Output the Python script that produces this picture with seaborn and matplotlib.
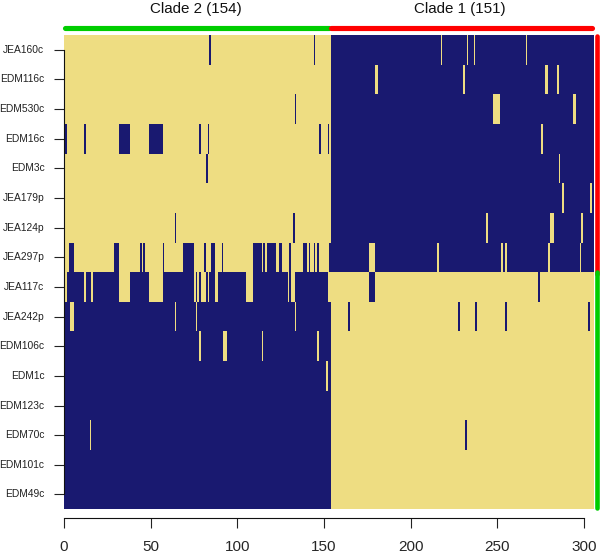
import numpy as np
import pandas as pd
import matplotlib
matplotlib.use("Agg")
import matplotlib.pyplot as plt
import seaborn as sns

sns.set_theme(style="white")
plt.rcParams['font.family'] = ['Liberation Sans', 'DejaVu Sans']

NAVY = "#191970"
KHAKI = "#EEDD82"
GREEN = "#00CD00"
RED = "#FF0000"

clade2_n = 154
clade1_n = 151

row_labels = ["JEA160c", "EDM116c", "EDM530c", "EDM16c", "EDM3c", "JEA179p", "JEA124p", "JEA297p",
              "JEA117c", "JEA242p", "EDM106c", "EDM1c", "EDM123c", "EDM70c", "EDM101c", "EDM49c"]

# column of each isolate that goes against the rest of its clade, per marker
jea160c = [84, 144, 217, 232, 236, 266]
edm116c = [179, 180, 230, 277, 278, 284]
edm530c = [133, 247, 248, 249, 250, 293, 294]
edm16c = [1, 12, 32, 33, 34, 35, 36, 37, 49, 50, 51, 52, 53, 54, 55, 56, 78, 83, 147, 152, 275]
edm3c = [82, 285]
jea179p = [287, 303]
jea124p = [64, 132, 243, 280, 281, 298]
jea297p = [3, 4, 5, 29, 30, 31, 44, 46, 57, 69, 70, 71, 72, 73, 74, 81, 85, 86, 91,
           109, 110, 111, 112, 113, 115, 117, 118, 119, 120, 121, 124, 125, 130,
           138, 139, 141, 144, 146, 153, 176, 177, 178, 215, 252, 254, 279, 297]
jea117c = [1, 12, 16, 32, 33, 34, 35, 36, 37, 49, 50, 51, 52, 53, 54, 55, 56, 75, 77,
           79, 80, 81, 83, 87, 88, 105, 106, 107, 108, 129, 131, 132, 152, 153,
           176, 177, 178, 273]
jea242p = [4, 5, 64, 76, 133, 164, 227, 237, 254, 302]
edm106c = [78, 92, 93, 114, 146]
edm1c = [151]
edm123c = []
edm70c = [15, 231]
edm101c = []
edm49c = []

exceptions = [jea160c, edm116c, edm530c, edm16c, edm3c, jea179p, jea124p, jea297p,
              jea117c, jea242p, edm106c, edm1c, edm123c, edm70c, edm101c, edm49c]

# 1 = navy, 0 = khaki
rows = []
for i, flips in enumerate(exceptions):
    first_half = i < 8
    row = np.r_[np.full(clade2_n, 0 if first_half else 1), np.full(clade1_n, 1 if first_half else 0)]
    row[flips] = 1 - row[flips]
    rows.append(row)
df = pd.DataFrame(rows, index=row_labels)

fig = plt.figure(figsize=(6, 5.55), dpi=100)
ax = fig.add_axes([63.5 / 600, 1 - 509.3 / 555, 530 / 600, 474.3 / 555])
sns.heatmap(df, cmap=[KHAKI, NAVY], cbar=False, ax=ax, vmin=0, vmax=1,
            xticklabels=False, yticklabels=True, antialiased=True)

xtick_vals = [0, 50, 100, 150, 200, 250, 300]
ax.set_xticks([t * 0.9973 + 0.3 for t in xtick_vals])
ax.set_xticklabels(xtick_vals, fontsize=10.5, color="#111111")
ax.tick_params(axis="x", length=7, width=0.8, color="#222222", pad=8.5, bottom=True)
ax.tick_params(axis="y", length=7.2, width=0.8, color="#222222", pad=6.5, left=True,
               labelsize=7.4, labelcolor="#222222", rotation=0)
ax.set_xlabel("")
ax.set_ylabel("")

for side in ["top", "right"]:
    ax.spines[side].set_visible(False)
ax.spines["left"].set_visible(True)
ax.spines["left"].set_color("#111111")
ax.spines["left"].set_linewidth(0.8)
ax.spines["left"].set_bounds(0.5, 15.5)
ax.spines["bottom"].set_visible(True)
ax.spines["bottom"].set_color("#111111")
ax.spines["bottom"].set_linewidth(0.8)
ax.spines["bottom"].set_position(("outward", 6.6))
ax.spines["bottom"].set_bounds(0.3, 299.5)

# clade bars, top and right
ax.plot([0.9, 153], [-0.246, -0.246], color=GREEN, lw=3.7, solid_capstyle="round", clip_on=False)
ax.plot([154, 304], [-0.246, -0.246], color=RED, lw=3.7, solid_capstyle="round", clip_on=False)
ax.plot([307.3, 307.3], [0.02, 8.05], color=RED, lw=3.3, solid_capstyle="round", clip_on=False)
ax.plot([307.3, 307.3], [8.01, 15.94], color=GREEN, lw=3.3, solid_capstyle="round", clip_on=False)

fig.text(196 / 600, 1 - 8.5 / 555, "Clade 2 (154)", ha="center", va="center", fontsize=10.9, color="#111111")
fig.text(460 / 600, 1 - 8.5 / 555, "Clade 1 (151)", ha="center", va="center", fontsize=10.9, color="#111111")

fig.savefig("out.png", dpi=100)
